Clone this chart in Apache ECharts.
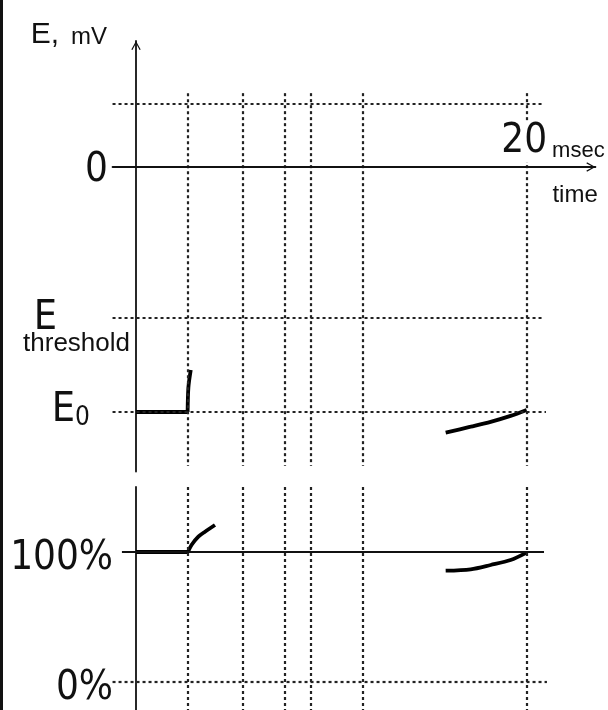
<!DOCTYPE html>
<html>
<head>
<meta charset="utf-8">
<script src="https://cdn.jsdelivr.net/npm/echarts@6/dist/echarts.min.js"></script>
<style>
  html, body { margin: 0; padding: 0; background: #fff; }
  #chart { width: 608px; height: 710px; }
  .edge { position: absolute; left: 0; top: 0; width: 3px; height: 710px; background: #111; }
</style>
</head>
<body>
<div id="chart"></div>
<div class="edge"></div>
<script>
// time, msec
const timeMin = -1.2, timeMax = 23.5;
const eventTimes = [2.66, 5.47, 7.62, 8.95, 11.6, 20];
const timeTicks = [20];

// membrane potential, mV
const eMin = -87, eMax = 36;
const ePeak = 18, eThreshold = -43, eRest = -70;
const eTicks = [0, eThreshold, eRest];
const eFlat = [[0, -70], [2.64, -70]];
const eRise = [[2.64, -70], [2.68, -63], [2.8, -58]];
const eRecovery = [[15.84, -75.9], [17.12, -74.2], [18.14, -72.8], [19.16, -71.1], [19.98, -69.4]];

// percent panel
const pctMin = -22, pctMax = 150;
const pctTicks = [0, 100];
const pctFlat = [[0, 100], [2.66, 100]];
const pctRise = [[2.66, 100], [2.84, 105.4], [3.19, 111.8], [3.53, 115.6], [4.04, 120.8]];
const pctRecovery = [[15.84, 85.6], [17.12, 86.7], [18.14, 90.0], [19.16, 93.8], [19.98, 99.5]];

const narrow = '"Liberation Sans Narrow", "DejaVu Sans Condensed", sans-serif';
const plain = '"Liberation Sans", Arial, sans-serif';
const ink = '#111';
const arrow = 'path://M0,9 L5,0 L10,9 L8.8,9.6 L5,2.4 L1.2,9.6 Z';

// pixel layout of the two panels
const axisX = 136, pxPerMs = 19.55;
const zeroY = 167, pxPerMv = 3.5;
const pct0Y = 682, pxPerPct = 1.3;

const dotted = { color: '#222', width: 2.2, type: [3, 3] };
const solid = { color: ink, width: 1.8, type: 'solid' };

function hLine(y, x0, x1, style) {
    return [{ coord: [x0, y], lineStyle: style }, { coord: [x1, y] }];
}
function vLine(x, y0, y1, style) {
    return [{ coord: [x, y0], lineStyle: style }, { coord: [x, y1] }];
}

function trace(data, xi, smooth, marks) {
    const s = {
        type: 'line',
        xAxisIndex: xi,
        yAxisIndex: xi,
        data: data,
        smooth: smooth,
        showSymbol: false,
        symbol: 'none',
        silent: true,
        lineStyle: { color: '#000', width: 3.8 }
    };
    if (marks) {
        s.markLine = {
            silent: true,
            symbol: ['none', 'none'],
            label: { show: false },
            data: marks
        };
    }
    return s;
}

const topMarks = [
    hLine(ePeak, timeMin, 20.77, dotted),
    hLine(eThreshold, timeMin, 20.77, dotted),
    hLine(eRest, timeMin, 20.97, dotted)
].concat(eventTimes.map(t => vLine(t, 21.1, -85.4, dotted)));

const bottomMarks = [
    hLine(100, -0.72, 20.87, solid),
    hLine(0, timeMin, 21.02, dotted)
].concat(eventTimes.map(t => vLine(t, pctMax, pctMin, dotted)));

const gridLeft = axisX + timeMin * pxPerMs;
const gridWidth = (timeMax - timeMin) * pxPerMs;
// axes sit at time 0 and at 0 mV, moved in from the grid edges
const yShift = gridLeft - axisX;
const xShift = -eMax * pxPerMv;

const chart = echarts.init(document.getElementById('chart'));
chart.setOption({
    animation: false,
    backgroundColor: '#fff',
    grid: [
        { left: gridLeft, width: gridWidth, top: zeroY - eMax * pxPerMv, height: (eMax - eMin) * pxPerMv, outerBoundsMode: 'none' },
        { left: gridLeft, width: gridWidth, top: pct0Y - pctMax * pxPerPct, height: (pctMax - pctMin) * pxPerPct, outerBoundsMode: 'none' }
    ],
    xAxis: [
        {
            type: 'value', gridIndex: 0, min: timeMin, max: timeMax, z: 5,
            position: 'top', offset: xShift,
            axisLine: { onZero: false, lineStyle: solid, symbol: ['none', arrow], symbolSize: [10, 9], symbolOffset: [0, -4.5] },
            axisTick: { show: false },
            splitLine: { show: false },
            axisLabel: {
                customValues: timeTicks,
                margin: 5,
                formatter: v => '{pad| }{n|' + v + '}{u|msec}',
                rich: {
                    pad: { width: 52, fontSize: 10 },
                    n: { fontFamily: narrow, fontSize: 40, lineHeight: 40, color: ink, backgroundColor: '#fff' },
                    u: { fontFamily: plain, fontSize: 22, lineHeight: 22, color: ink, padding: [17, 0, 0, 5] }
                }
            },
            name: 'time',
            nameLocation: 'end',
            nameGap: -43,
            nameMoveOverlap: false,
            nameTextStyle: { fontFamily: plain, fontSize: 24, color: ink, align: 'left', verticalAlign: 'top', padding: [16, 0, 0, 0] }
        },
        { type: 'value', gridIndex: 1, min: timeMin, max: timeMax, show: false }
    ],
    yAxis: [
        {
            type: 'value', gridIndex: 0, min: eMin, max: eMax,
            position: 'left', offset: yShift,
            axisLine: { onZero: false, lineStyle: solid, symbol: ['none', arrow], symbolSize: [10, 9], symbolOffset: [0, -4.5] },
            axisTick: { show: false },
            splitLine: { show: false },
            axisLabel: {
                customValues: eTicks,
                margin: 6,
                formatter: function (v) {
                    if (v === 0) return '{big|0}';
                    if (v === eThreshold) return '{bigE|E}\n{thr|threshold}';
                    return '{bigE0|E}{sub|0}';
                },
                rich: {
                    big: { fontFamily: narrow, fontSize: 40, lineHeight: 40, color: ink, padding: [7, 22, 0, 0] },
                    bigE: { fontFamily: narrow, fontSize: 41, lineHeight: 36, color: ink, padding: [25, 73, 0, 0] },
                    thr: { fontFamily: plain, fontSize: 26, lineHeight: 24, color: ink, padding: [16, 0, 0, 0] },
                    bigE0: { fontFamily: narrow, fontSize: 41, lineHeight: 41, color: ink, padding: [0, 0, 3, 0] },
                    sub: { fontFamily: narrow, fontSize: 26, lineHeight: 26, color: ink, padding: [15, 40, 3, 0] }
                }
            },
            name: '{e|E,}{u|mV}',
            nameLocation: 'end',
            nameGap: -9,
            nameMoveOverlap: false,
            nameTextStyle: {
                align: 'right',
                verticalAlign: 'bottom',
                padding: [0, 29, 0, 0],
                rich: {
                    e: { fontFamily: plain, fontSize: 30, lineHeight: 30, color: ink },
                    u: { fontFamily: plain, fontSize: 24, lineHeight: 24, color: ink, padding: [4, 0, 0, 12] }
                }
            }
        },
        {
            type: 'value', gridIndex: 1, min: pctMin, max: pctMax,
            position: 'left', offset: yShift,
            axisLine: { onZero: false, lineStyle: solid },
            axisTick: { show: false },
            splitLine: { show: false },
            axisLabel: {
                customValues: pctTicks,
                margin: 6,
                formatter: v => '{pct|' + v + '%}',
                rich: {
                    pct: { fontFamily: narrow, fontSize: 40, lineHeight: 40, color: ink, padding: [13, 17, 0, 0] }
                }
            }
        }
    ],
    series: [
        trace(eFlat, 0, false, topMarks),
        trace(eRise, 0, 0.3),
        trace(eRecovery, 0, 0.3),
        trace(pctFlat, 1, false, bottomMarks),
        trace(pctRise, 1, 0.3),
        trace(pctRecovery, 1, 0.3)
    ]
});
</script>
</body>
</html>
